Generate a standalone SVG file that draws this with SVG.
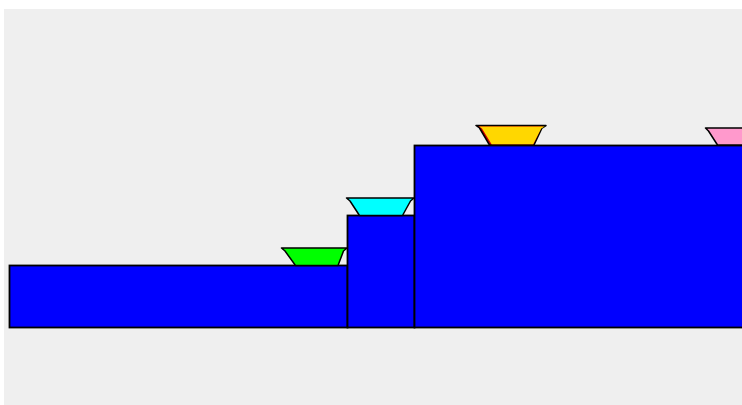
<svg xmlns="http://www.w3.org/2000/svg" width="742" height="405" viewBox="0 0 742 405">
<style>
.blk{fill:#0000ff;stroke:#000;stroke-width:1.8}
.bowl{stroke:#000;stroke-width:1.5;stroke-linejoin:round}
</style>
<rect x="0" y="0" width="742" height="405" fill="#ffffff"/>
<rect x="4" y="9" width="738" height="396" fill="#efefef"/>
<g id="step1"><rect class="blk" x="9.5" y="265.5" width="338" height="62"/></g>
<g id="step2"><rect class="blk" x="347.5" y="215.5" width="67" height="112"/></g>
<g id="step3"><rect class="blk" x="414.5" y="145.5" width="330" height="182"/></g>
<g id="green"><polygon class="bowl" fill="#00ff00" points="281.5,248 347,248 343.5,251 338,265.5 295.5,265.5 285,251"/></g>
<g id="cyan"><polygon class="bowl" fill="#00ffff" points="346.5,198 414,198 410.5,201 402.5,215.5 359.5,215.5 350,201"/></g>
<g id="gold">
<polygon class="bowl" fill="#cc0000" points="476,125.5 546,125.5 542,128 534,145 489.5,145 479.5,128"/>
<polygon fill="#ffd700" points="479.2,126.5 544.8,126.5 541.2,128.5 533.2,144.3 491.6,144.3 482,128.5"/>
</g>
<g id="pink"><polygon class="bowl" fill="#ff99cc" points="705.5,128 750,128 750,145 717.5,145 708.5,131"/></g>
</svg>
